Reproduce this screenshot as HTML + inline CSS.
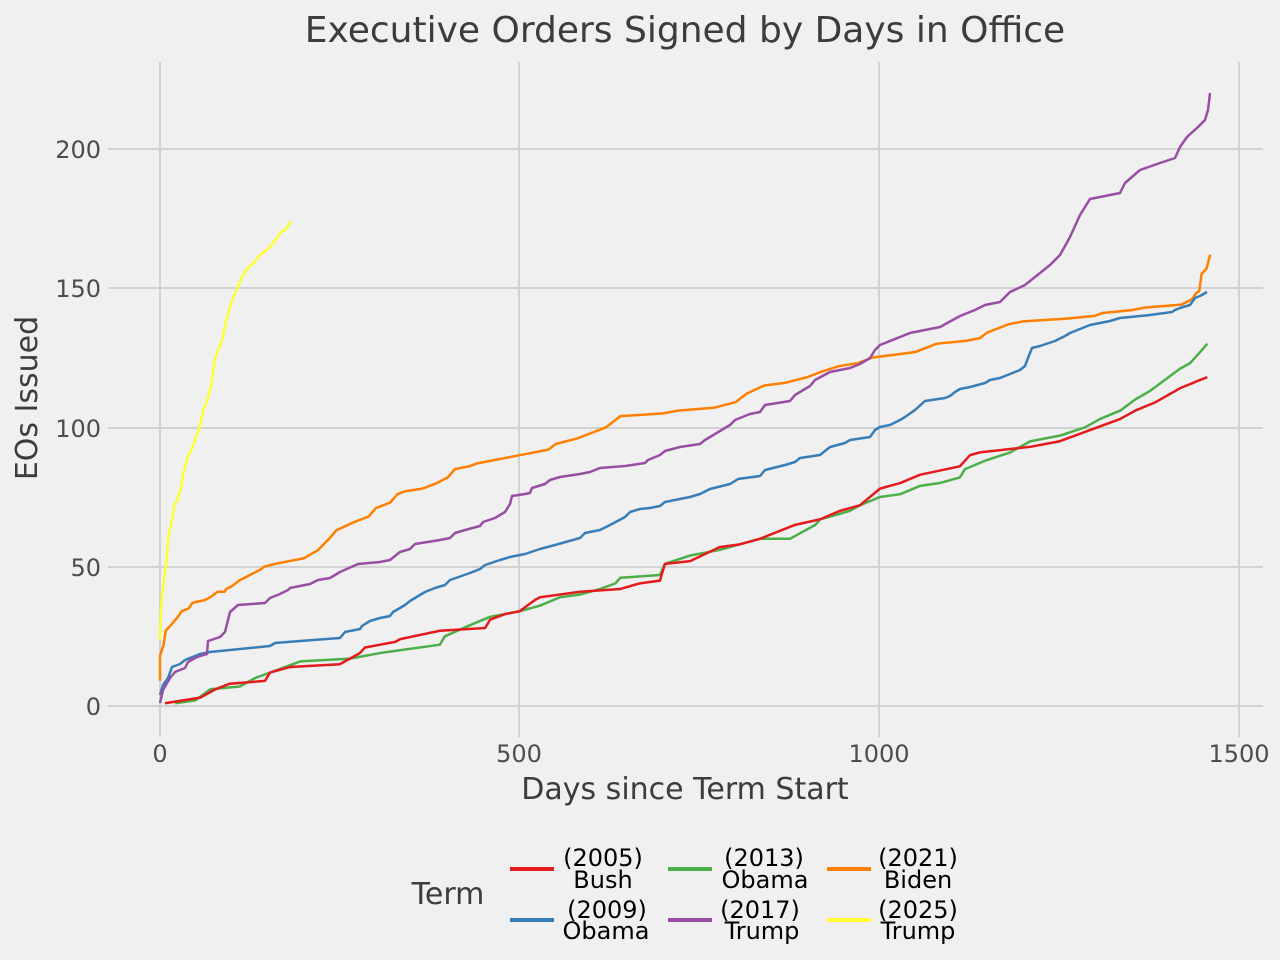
<!DOCTYPE html>
<html><head><meta charset="utf-8"><style>
html,body{margin:0;padding:0;background:#f0f0f0}
svg{display:block;font-family:"DejaVu Sans","Liberation Sans",sans-serif}
</style></head><body>
<svg width="1280" height="960" viewBox="0 0 1280 960" xmlns="http://www.w3.org/2000/svg">
<rect width="1280" height="960" fill="#f0f0f0"/>
<g stroke="#d2d2d2" stroke-width="2">
<line x1="160" y1="62" x2="160" y2="737"/><line x1="519" y1="62" x2="519" y2="737"/>
<line x1="879" y1="62" x2="879" y2="737"/><line x1="1239" y1="62" x2="1239" y2="737"/>
<line x1="108" y1="149" x2="1263" y2="149"/><line x1="108" y1="288" x2="1263" y2="288"/>
<line x1="108" y1="428" x2="1263" y2="428"/><line x1="108" y1="567" x2="1263" y2="567"/>
<line x1="108" y1="706" x2="1263" y2="706"/>
</g>
<text x="685" y="42" font-size="36" fill="#3c3c3c" text-anchor="middle">Executive Orders Signed by Days in Office</text>
<g font-size="24" fill="#4d4d4d" text-anchor="end">
<text x="101" y="158">200</text><text x="101" y="297">150</text><text x="101" y="437">100</text><text x="101" y="576">50</text><text x="101" y="715">0</text>
</g>
<g font-size="24" fill="#4d4d4d" text-anchor="middle">
<text x="160" y="762">0</text><text x="519" y="762">500</text><text x="879" y="762">1000</text><text x="1239" y="762">1500</text>
</g>
<text x="685" y="799" font-size="30" fill="#3c3c3c" text-anchor="middle">Days since Term Start</text>
<text transform="translate(37,398) rotate(-90)" font-size="30" fill="#3c3c3c" text-anchor="middle">EOs Issued</text>

<g fill="none" stroke-width="2.5" stroke-linejoin="round">
<g transform="matrix(0.7193 0 0 -2.787 160 706)">
<polyline vector-effect="non-scaling-stroke" stroke="#ff7f00" points="0,9 0,18 5,22 8,27 15,29 25,32 30,34 40,35 45,37 62,38 70,39 80,41 90,41 92,42 100,43 110,45 125,47 140,49 145,50 160,51 180,52 200,53 220,56 235,60 245,63 270,66 290,68 300,71 320,73 330,76 340,77 365,78 385,80 400,82 410,85 430,86 440,87 460,88 480,89 500,90 540,92 550,94 580,96 600,98 620,100 630,102 640,104 700,105 720,106 770,107 800,109 815,112 840,115 870,116 900,118 920,120 945,122 970,123 990,125 1020,126 1050,127 1070,129 1080,130 1120,131 1140,132 1150,134 1160,135 1180,137 1200,138 1260,139 1300,140 1310,141 1350,142 1370,143 1420,144 1435,146 1440,148 1445,149 1448,155 1455,157 1458,160 1460,162"/>
<polyline vector-effect="non-scaling-stroke" stroke="#ffff33" points="0,24 1,33 3,40 6,46 9,52 12,61 16,66 20,72 24,74 28,77 33,84 38,89 44,92 48,95 55,100 60,106 66,110 72,116 76,124 80,127 86,131 92,138 98,144 106,149 114,154 122,157 130,159 140,162 150,164 160,167 168,170 175,171 180,173 182,174"/>
<polyline vector-effect="non-scaling-stroke" stroke="#4daf4a" points="21,1 49,2 70,6 111,7 132,10 153,12 195,16 264,17 306,19 389,22 396,25 431,29 459,32 500,34 528,36 556,39 584,40 612,42 633,44 640,46 695,47 702,51 737,54 778,56 806,58 834,60 876,60 890,62 911,65 918,67 932,68 959,70 973,72 1001,75 1029,76 1057,79 1084,80 1112,82 1119,85 1147,88 1182,91 1210,95 1251,97 1286,100 1307,103 1335,106 1356,110 1376,113 1397,117 1418,121 1432,123 1446,127 1456,130"/>
<polyline vector-effect="non-scaling-stroke" stroke="#e41a1c" points="7,1 56,3 77,6 97,8 146,9 153,12 181,14 250,15 264,17 278,19 285,21 327,23 334,24 389,27 452,28 459,31 480,33 500,34 521,38 528,39 584,41 640,42 667,44 695,45 702,51 737,52 778,57 806,58 834,60 883,65 918,67 945,70 973,72 1001,78 1029,80 1057,83 1112,86 1126,90 1140,91 1210,93 1251,95 1293,99 1335,103 1356,106 1384,109 1418,114 1446,117 1456,118"/>
</g>
<polyline stroke="#377eb8" points="160,695 163,685 168,678 172,667 180,664 185,660 195,656 200,654 210,652 230,650 270,646 275,643 300,641 340,638 345,632 360,629 362,626 365,624 370,621 380,618 390,616 393,612 400,608 405,605 410,601 425,592 435,588 445,585 450,580 470,573 480,569 485,565 500,560 510,557 525,554 540,549 555,545 580,538 585,533 600,530 610,525 625,517 630,512 640,509 650,508 660,506 665,502 670,501 690,497 700,494 710,489 730,484 738,479 760,476 765,470 785,465 795,462 800,458 820,455 830,447 845,443 850,440 870,437 875,430 880,427 890,425 900,420 905,417 915,410 925,401 945,398 950,396 955,392 960,389 970,387 985,383 990,380 1000,378 1010,374 1020,370 1025,366 1028,358 1032,348 1040,346 1055,341 1065,336 1070,333 1080,329 1090,325 1110,321 1120,318 1150,315 1172,312 1175,310 1180,308 1190,305 1195,298 1200,296 1207,292"/>
<polyline stroke="#984ea3" points="160,703 163,690 170,678 175,672 185,668 188,662 195,658 200,656 207,654 208,641 220,637 225,632 230,612 238,605 265,603 270,598 280,594 288,590 290,588 300,586 310,584 318,580 330,578 340,572 358,564 380,562 390,560 395,556 400,552 410,549 415,544 440,540 450,538 455,533 465,530 480,526 483,522 495,518 505,512 510,504 512,496 525,494 530,493 532,488 545,484 550,480 560,477 580,474 590,472 600,468 625,466 645,463 648,460 660,455 665,451 680,447 700,444 705,440 730,425 735,420 750,414 760,412 765,405 790,401 795,395 810,386 815,380 830,372 850,368 860,364 870,358 875,350 880,345 910,333 940,327 960,316 975,310 985,305 1000,302 1010,292 1025,285 1040,273 1050,265 1060,255 1070,237 1080,215 1090,199 1120,193 1125,183 1140,170 1160,163 1175,158 1180,147 1187,137 1198,127 1205,120 1208,110 1210,93"/>
</g>

<text x="448" y="904" font-size="30" fill="#3c3c3c" text-anchor="middle">Term</text>
<g stroke-width="4">
<line x1="510" y1="869" x2="554" y2="869" stroke="#e41a1c"/>
<line x1="510" y1="920" x2="554" y2="920" stroke="#377eb8"/>
<line x1="668" y1="869" x2="712" y2="869" stroke="#4daf4a"/>
<line x1="668" y1="920" x2="712" y2="920" stroke="#984ea3"/>
<line x1="827" y1="869" x2="871" y2="869" stroke="#ff7f00"/>
<line x1="827" y1="920" x2="871" y2="920" stroke="#ffff33"/>
</g>
<g font-size="24" fill="#000" text-anchor="middle">
<text x="603" y="866">(2005)</text><text x="603" y="888">Bush</text>
<text x="607" y="918">(2009)</text><text x="606" y="939">Obama</text>
<text x="764" y="866">(2013)</text><text x="765" y="888">Obama</text>
<text x="760" y="918">(2017)</text><text x="762" y="939">Trump</text>
<text x="918" y="866">(2021)</text><text x="918" y="888">Biden</text>
<text x="918" y="918">(2025)</text><text x="918" y="939">Trump</text>
</g>
</svg>
</body></html>
